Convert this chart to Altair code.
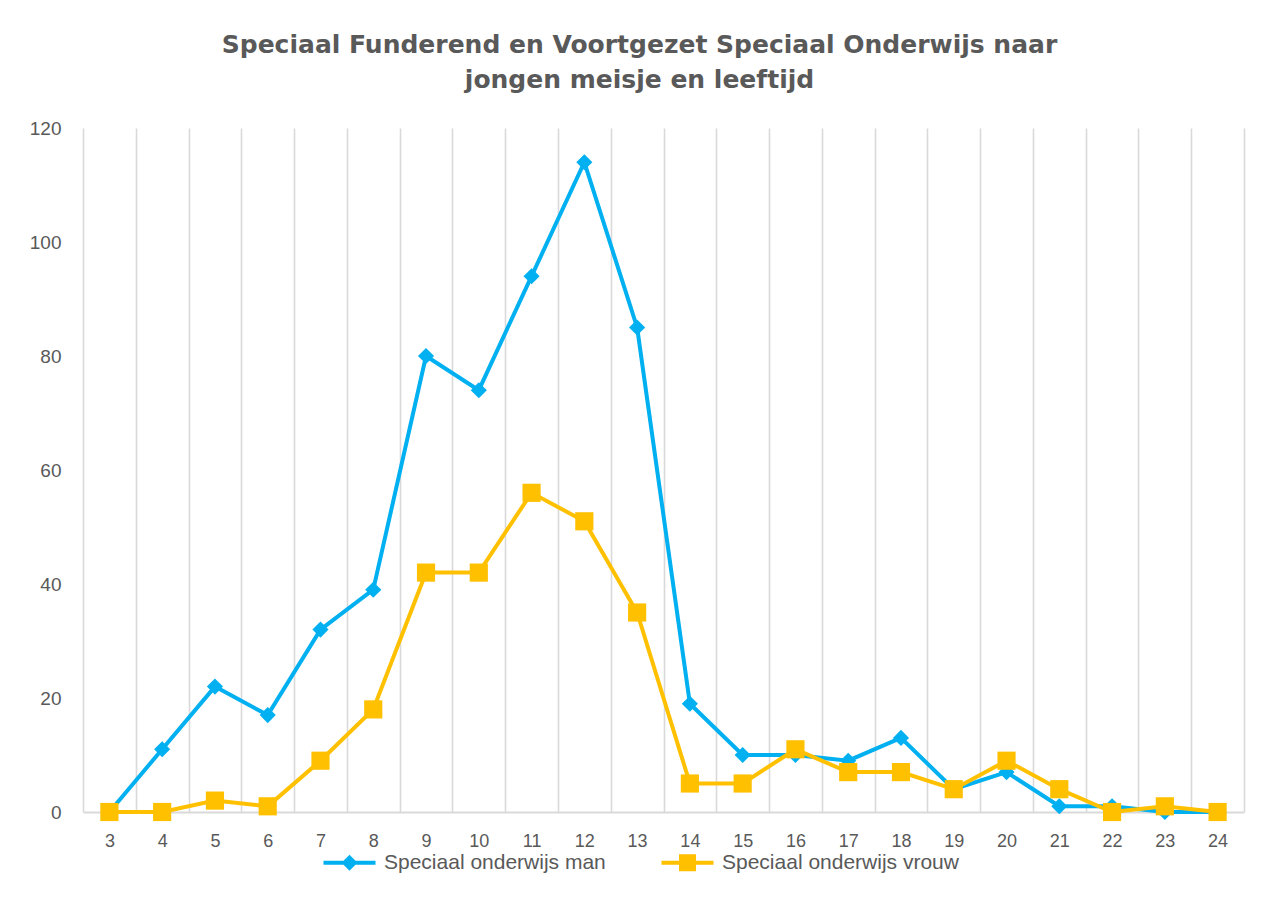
import altair as alt
import pandas as pd

ages = list(range(3, 25))
man = [0, 11, 22, 17, 32, 39, 80, 74, 94, 114, 85, 19, 10, 10, 9, 13, 4, 7, 1, 1, 0, 0]
vrouw = [0, 0, 2, 1, 9, 18, 42, 42, 56, 51, 35, 5, 5, 11, 7, 7, 4, 9, 4, 0, 1, 0]
series_names = ["Speciaal onderwijs man", "Speciaal onderwijs vrouw"]
series_colors = ["#00B0F0", "#FFC000"]
title_lines = ["Speciaal Funderend en Voortgezet Speciaal Onderwijs naar",
               "jongen meisje en leeftijd"]
y_ticks = [0, 20, 40, 60, 80, 100, 120]

rows = []
for a, m, v in zip(ages, man, vrouw):
    rows.append({"age": a, "value": m, "series": series_names[0]})
    rows.append({"age": a, "value": v, "series": series_names[1]})
df = pd.DataFrame(rows)

GREY = "#595959"
GRID = "#d9d9d9"

x_enc = alt.X(
    "age:O",
    bandPosition=0.5,
    scale=alt.Scale(type="band", paddingInner=0, paddingOuter=0),
    axis=alt.Axis(
        title=None, labelAngle=0, grid=True, gridColor=GRID, gridWidth=1.6,
        tickBand="extent", ticks=False, domainColor=GRID, domainWidth=2,
        labelFont="Liberation Sans", labelFontSize=18, labelColor=GREY,
        labelPadding=20,
    ),
)
y_enc = alt.Y(
    "value:Q",
    scale=alt.Scale(domain=[0, 120], nice=False),
    axis=alt.Axis(
        title=None, values=y_ticks, grid=False, domain=False, ticks=False,
        labelFont="Liberation Sans", labelFontSize=19, labelColor=GREY,
        labelPadding=22,
    ),
)
color_enc = alt.Color("series:N", scale=alt.Scale(domain=series_names, range=series_colors), legend=None)

# legend-only layer (draws no marks; explicit domains keep the legend entries)
line_diamond = "M-2.6,-0.2 H2.6 V0.2 H-2.6 Z M0,-0.8 L0.8,0 L0,0.8 L-0.8,0 Z"
line_square = "M-2.6,-0.2 H2.6 V0.2 H-2.6 Z M-0.85,-0.85 H0.85 V0.85 H-0.85 Z"
legend_layer = alt.Chart(df).transform_filter("false").mark_point(
    filled=True, opacity=1, fillOpacity=1
).encode(
    x=x_enc, y=y_enc,
    color=alt.Color("series:N", scale=alt.Scale(domain=series_names, range=series_colors),
                    legend=alt.Legend(
                        title=None, orient="none", direction="horizontal",
                        legendX=256, legendY=724,
                        symbolOpacity=1, symbolSize=400, symbolStrokeWidth=0,
                        labelOffset=24, columnPadding=55,
                        labelFont="Liberation Sans", labelFontSize=21, labelColor=GREY,
                        labelLimit=400,
                    )),
    shape=alt.Shape("series:N", scale=alt.Scale(domain=series_names, range=[line_diamond, line_square])),
)

def series_layers(name, shape, size):
    base = alt.Chart(df).transform_filter(alt.datum.series == name)
    line = base.mark_line(strokeWidth=4).encode(x=x_enc, y=y_enc, color=color_enc)
    pts = base.mark_point(shape=shape, filled=True, size=size, opacity=1).encode(
        x=x_enc, y=y_enc, color=color_enc)
    return [line, pts]

layers = [legend_layer] + series_layers(series_names[0], "diamond", 260) + series_layers(series_names[1], "square", 330)

chart = alt.layer(*layers).properties(
    width=1161,
    height=684,
    autosize=alt.AutoSizeParams(type="none"),
    padding={"left": 75, "top": 120, "right": 20, "bottom": 80},
    title=alt.TitleParams(
        text=title_lines, font="DejaVu Sans", fontSize=25, fontWeight="bold",
        color=GREY, anchor="middle", dx=-24, offset=26, lineHeight=35,
    ),
).configure_view(stroke=None)

chart.save("out.html", embed_options={"renderer": "svg", "actions": False})
